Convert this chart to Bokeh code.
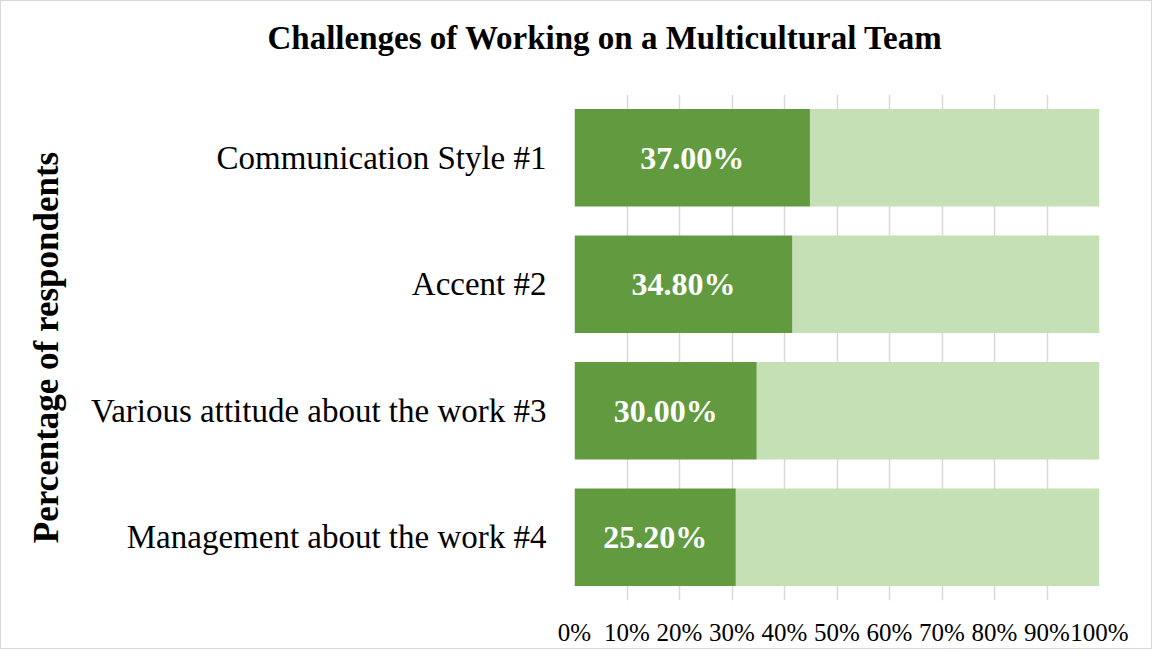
from bokeh.plotting import figure
from bokeh.models import ColumnDataSource, FactorRange, NumeralTickFormatter, FixedTicker, Range1d, Title
from bokeh.core.properties import value
from bokeh.embed import file_html
from bokeh.resources import INLINE

categories = ["Communication Style #1", "Accent #2", "Various attitude about the work #3", "Management about the work #4"]
share_values = [37.00, 34.80, 30.00, 25.20]
other_values = [45.5, 49.0, 56.4, 56.8]
tick_values = [0, 0.1, 0.2, 0.3, 0.4, 0.5, 0.6, 0.7, 0.8, 0.9, 1.0]
chart_title = "Challenges of Working on a Multicultural Team"
y_title = "Percentage of respondents"

dark_frac = [s / (s + o) for s, o in zip(share_values, other_values)]
light_frac = [o / (s + o) for s, o in zip(share_values, other_values)]
labels = [f"{s:.2f}%" for s in share_values]
label_x = [d / 2 for d in dark_frac]

source = ColumnDataSource(dict(cat=categories, dark=dark_frac, light=light_frac,
                               label=labels, lx=label_x))

SERIF = "Liberation Serif"

p = figure(width=1152, height=649, y_range=FactorRange(*categories[::-1], range_padding=0),
           x_range=Range1d(0, 1), output_backend="svg", toolbar_location=None,
           min_border_left=573, min_border_right=54, min_border_top=93, min_border_bottom=50)

p.hbar_stack(["dark", "light"], y="cat", height=0.77, source=source,
             color=["#629b3f", "#c5e0b4"], line_color=None)

p.text(x="lx", y="cat", text="label", source=source, text_align="center",
       text_baseline="middle", text_color="white", text_font=value(SERIF),
       text_font_size="32px", text_font_style="bold")

# spacer between frame and title, then the title itself
p.add_layout(Title(text=" ", text_font_size="12px", standoff=8), "above")
p.add_layout(Title(text=chart_title, text_font=SERIF, text_font_size="33px",
                   text_font_style="bold", text_color="#000000", align="left",
                   offset=-307, standoff=30), "above")

p.xaxis.ticker = FixedTicker(ticks=tick_values)
p.xaxis.formatter = NumeralTickFormatter(format="0%")
p.xaxis.major_label_text_font = SERIF
p.xaxis.major_label_text_font_size = "25px"
p.xaxis.major_label_text_color = "#000000"
p.xaxis.axis_line_color = None
p.xaxis.major_tick_line_color = None
p.xaxis.minor_tick_line_color = None
p.xaxis.major_label_standoff = 12

p.yaxis.axis_label = y_title
p.yaxis.axis_label_text_font = SERIF
p.yaxis.axis_label_text_font_size = "35px"
p.yaxis.axis_label_text_font_style = "bold"
p.yaxis.axis_label_text_color = "#000000"
p.yaxis.axis_label_standoff = 22
p.yaxis.major_label_text_font = SERIF
p.yaxis.major_label_text_font_size = "33px"
p.yaxis.major_label_text_color = "#000000"
p.yaxis.axis_line_color = None
p.yaxis.major_tick_line_color = None
p.yaxis.minor_tick_line_color = None
p.yaxis.major_label_standoff = 22

p.xgrid.grid_line_color = "#d9d9d9"
p.xgrid.grid_line_width = 1.5
p.ygrid.grid_line_color = None
p.outline_line_color = None
p.styles = {"border": "1.5px solid #d9d9d9"}

open("out.html", "w").write(file_html(p, INLINE))
